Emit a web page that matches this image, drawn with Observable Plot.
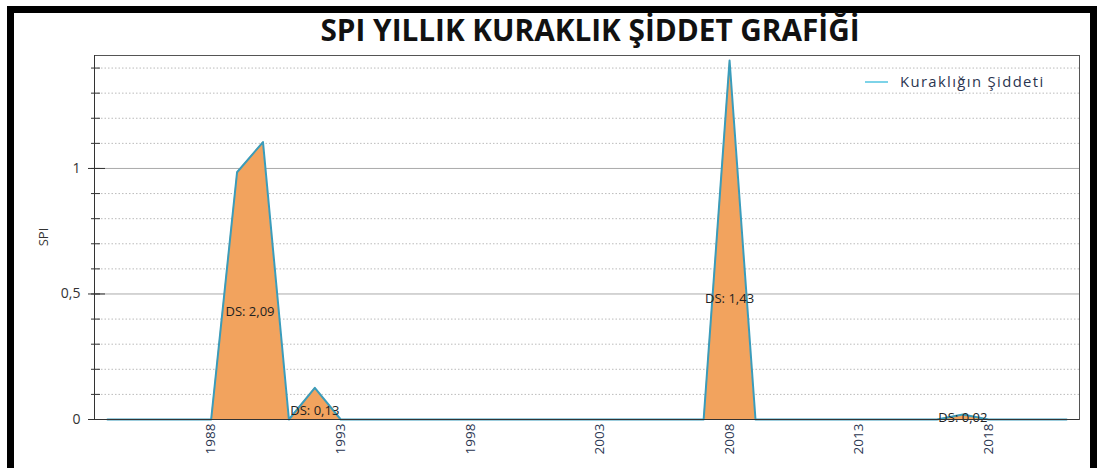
<!DOCTYPE html>
<html>
<head>
<meta charset="utf-8">
<script src="https://cdn.jsdelivr.net/npm/d3@7"></script>
<script src="https://cdn.jsdelivr.net/npm/@observablehq/plot@0.6"></script>
<style>
  html, body { margin: 0; padding: 0; background: #fff; }
  #wrap { position: relative; width: 1099px; height: 468px; overflow: hidden; background: #fff; font-family: "Open Sans", sans-serif; }
  #border { position: absolute; left: 7px; top: 6px; width: 1090px; height: 470px; border: 7px solid #000; box-sizing: border-box; }
  #title { position: absolute; top: 10px; left: 318px; width: 539px; text-align: center; white-space: nowrap; }
  #title span { display: inline-block; font-family: "Open Sans", sans-serif; font-weight: 700; font-size: 30px; line-height: 40px; color: #111; transform-origin: center; white-space: nowrap; }
  #chart { position: absolute; left: 0; top: 0; }
  #legend { position: absolute; left: 865px; top: 72px; display: flex; align-items: center; font-family: "Open Sans", sans-serif; font-size: 14px; color: #2b3550; letter-spacing: 1.3px; }
  #legend .sw { width: 23px; height: 2px; background: #7dd3e8; margin-right: 12px; }
</style>
</head>
<body>
<div id="wrap">
  <div id="chart"></div>
  <div id="border"></div>
  <div id="title"><span id="titletext">SPI YILLIK KURAKLIK ŞİDDET GRAFİĞİ</span></div>
  <div id="legend"><div class="sw"></div><div id="legtext">Kuraklığın Şiddeti</div></div>
</div>
<script>
// ---- data ----
const years = [1984,1985,1986,1987,1988,1989,1990,1991,1992,1993,1994,1995,1996,1997,1998,1999,2000,2001,2002,2003,2004,2005,2006,2007,2008,2009,2010,2011,2012,2013,2014,2015,2016,2017,2018,2019,2020,2021];
const spiValues = [0,0,0,0,0,0.985,1.105,0,0.126,0,0,0,0,0,0,0,0,0,0,0,0,0,0,0,1.43,0,0,0,0,0,0,0,0,0.02,0,0,0,0];
const labelTexts = ["DS: 2,09", "DS: 0,13", "DS: 1,43", "DS: 0,02"];
const labelYears = [1989.5, 1992, 2008, 2017];
const labelValues = [0.43, 0.035, 0.48, 0.005];
const xTickLabels = [1988, 1993, 1998, 2003, 2008, 2013, 2018];
const yMajorTicks = [0, 0.5, 1];

const series = years.map((y, i) => ({year: y, spi: spiValues[i]}));
const labels = labelTexts.map((t, i) => ({text: t, year: labelYears[i], spi: labelValues[i]}));
const minorTicks = d3.range(0, 15).map(i => i / 10);
const dottedTicks = minorTicks.filter(v => !yMajorTicks.includes(v));
const fmt = d => String(d).replace(".", ",");

const plot = Plot.plot({
  width: 1099,
  height: 468,
  marginLeft: 94,
  marginRight: 20,
  marginTop: 55,
  marginBottom: 49,
  style: {background: "transparent", fontFamily: "Open Sans, sans-serif"},
  x: {domain: [1983.5, 2021.5]},
  y: {domain: [0, 1.45]},
  marks: [
    Plot.gridY(dottedTicks, {stroke: "#bbb", strokeOpacity: 1, strokeDasharray: "1.5,2"}),
    Plot.gridY([0.5, 1], {stroke: "#aaa", strokeOpacity: 1}),
    Plot.areaY(series, {x: "year", y: "spi", fill: "#f2a35e", fillOpacity: 1}),
    Plot.lineY(series, {x: "year", y: "spi", stroke: "#3a9cbb", strokeWidth: 2}),
    Plot.text(labels, {x: "year", y: "spi", text: "text", fontSize: 13, fill: "#222"}),
    Plot.frame({stroke: "#555"}),
    Plot.axisY(minorTicks, {tickSize: 3, tickFormat: () => "", stroke: "#333", label: null}),
    Plot.axisY(minorTicks, {tickSize: -6, tickFormat: () => "", stroke: "#333", label: null}),
    Plot.axisY(yMajorTicks, {tickSize: 6, tickPadding: 8, tickFormat: fmt, fontSize: 14, fill: "#333", stroke: "#333", label: null}),
    Plot.axisY(yMajorTicks, {tickSize: -11, tickFormat: () => "", stroke: "#333", label: null}),
    Plot.axisX(xTickLabels, {tickSize: 0, tickPadding: 4, tickRotate: -90, tickFormat: d => String(d), fontSize: 13.5, fill: "#2a3550", label: null}),
    Plot.ruleY([0], {stroke: "#333"}),
    Plot.ruleX([1983.5], {stroke: "#333"})
  ]
});
document.getElementById("chart").appendChild(plot);

// y-axis title
const svg = d3.select(plot);
svg.append("text")
  .attr("transform", "translate(45,237) rotate(-90)")
  .attr("text-anchor", "middle")
  .attr("dominant-baseline", "middle")
  .attr("font-size", 13)
  .attr("fill", "#333")
  .text("SPI");

// fit title width
const t = document.getElementById("titletext");
const w = t.offsetWidth;
t.style.transform = `scaleX(${539 / w})`;
// fit legend text width
const lt = document.getElementById("legtext");
const lw = lt.offsetWidth;
lt.style.transformOrigin = "left center";
lt.style.transform = `scaleX(${145 / lw})`;
</script>
</body>
</html>
